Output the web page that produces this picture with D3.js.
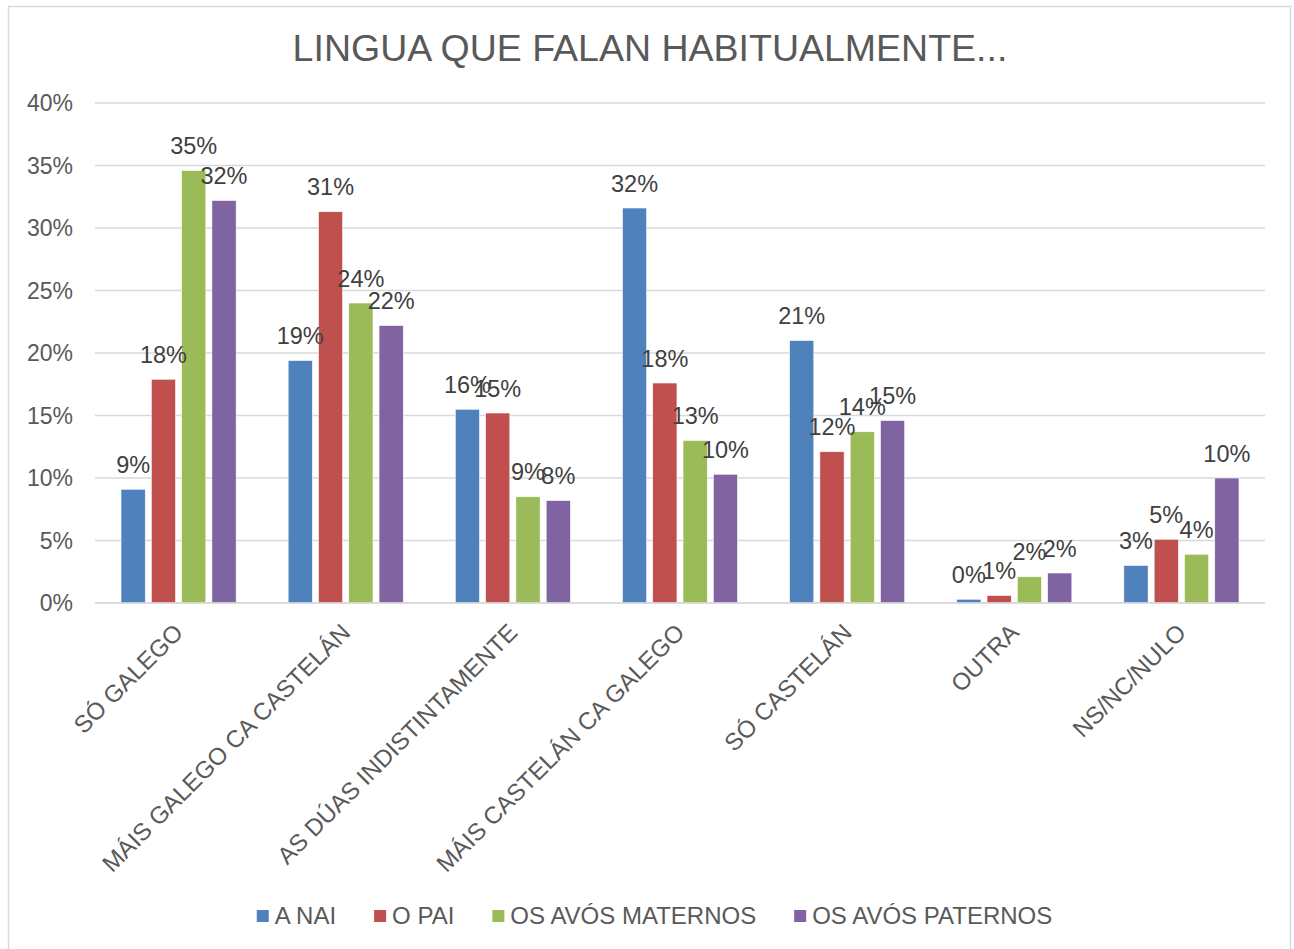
<!DOCTYPE html>
<html>
<head>
<meta charset="utf-8">
<script src="https://cdn.jsdelivr.net/npm/d3@7"></script>
<style>
  html, body { margin: 0; padding: 0; background: #fff; }
  svg { display: block; font-family: "Liberation Sans", Arial, sans-serif; }
</style>
</head>
<body>
<svg id="chart" width="1294" height="949"></svg>
<script>
const title = "LINGUA QUE FALAN HABITUALMENTE...";
const categories = ["SÓ GALEGO", "MÁIS GALEGO CA CASTELÁN", "AS DÚAS INDISTINTAMENTE", "MÁIS CASTELÁN CA GALEGO", "SÓ CASTELÁN", "OUTRA", "NS/NC/NULO"];
const seriesNames = ["A NAI", "O PAI", "OS AVÓS MATERNOS", "OS AVÓS PATERNOS"];
const seriesColors = ["#4F81BD", "#C0504D", "#9BBB59", "#8064A2"];
const aNai = [9.1, 19.4, 15.5, 31.6, 21.0, 0.3, 3.0];
const oPai = [17.9, 31.3, 15.2, 17.6, 12.1, 0.6, 5.1];
const avosMaternos = [34.6, 24.0, 8.5, 13.0, 13.7, 2.1, 3.9];
const avosPaternos = [32.2, 22.2, 8.2, 10.3, 14.6, 2.4, 10.0];
const yTicks = [0, 5, 10, 15, 20, 25, 30, 35, 40];

const seriesValues = [aNai, oPai, avosMaternos, avosPaternos];

const svg = d3.select("#chart");

// chart border
svg.append("rect").attr("x", 8.5).attr("y", 6.5).attr("width", 1282).attr("height", 960)
  .attr("fill", "#fff").attr("stroke", "#d9d9d9").attr("stroke-width", 1.5);

const plot = { left: 95, right: 1265, top: 103, bottom: 603 };

const x0 = d3.scaleBand().domain(categories).range([plot.left, plot.right]).padding(0);
const groupInner = 121.2;
const x1 = d3.scaleBand().domain(seriesNames)
  .range([(x0.bandwidth() - groupInner) / 2, (x0.bandwidth() + groupInner) / 2])
  .paddingInner(0.2).paddingOuter(0.1);
const y = d3.scaleLinear().domain([0, 40]).range([plot.bottom, plot.top]);

// title
svg.append("text").attr("x", 650).attr("y", 61).attr("text-anchor", "middle")
  .attr("font-size", 37.5).attr("fill", "#595959").text(title);

// gridlines
svg.append("g").selectAll("line").data(yTicks).join("line")
  .attr("x1", plot.left).attr("x2", plot.right)
  .attr("y1", d => y(d)).attr("y2", d => y(d))
  .attr("stroke", "#d9d9d9").attr("stroke-width", 1.5);

// y tick labels
svg.append("g").selectAll("text").data(yTicks).join("text")
  .attr("x", 73).attr("y", d => y(d)).attr("dy", "0.35em")
  .attr("text-anchor", "end").attr("font-size", 23).attr("fill", "#595959")
  .text(d => d + "%");

// bars
const rows = [];
categories.forEach((c, ci) => {
  seriesNames.forEach((s, si) => {
    rows.push({ cat: c, series: s, value: seriesValues[si][ci], color: seriesColors[si] });
  });
});

svg.append("g").selectAll("rect").data(rows).join("rect")
  .attr("x", d => x0(d.cat) + x1(d.series))
  .attr("width", x1.bandwidth())
  .attr("y", d => y(d.value))
  .attr("height", d => y(0) - y(d.value))
  .attr("fill", d => d.color)
  .attr("stroke", "#fff").attr("stroke-width", 0.6);

// axis baseline redraw on top
svg.append("line").attr("x1", plot.left).attr("x2", plot.right)
  .attr("y1", y(0)).attr("y2", y(0)).attr("stroke", "#d9d9d9").attr("stroke-width", 1.5);

// data labels
svg.append("g").selectAll("text").data(rows).join("text")
  .attr("x", d => x0(d.cat) + x1(d.series) + x1.bandwidth() / 2)
  .attr("y", d => y(d.value) - 16.5)
  .attr("text-anchor", "middle").attr("font-size", 23.5).attr("fill", "#404040")
  .text(d => Math.round(d.value) + "%");

// category labels
svg.append("g").selectAll("text").data(categories).join("text")
  .attr("transform", d => `translate(${x0(d) + x0.bandwidth() / 2 + 6},${plot.bottom + 31}) rotate(-45)`)
  .attr("text-anchor", "end").attr("font-size", 24).attr("fill", "#595959")
  .text(d => d);

// legend
const legend = svg.append("g");
const items = legend.selectAll("g").data(seriesNames).join("g");
items.append("rect").attr("width", 12).attr("height", 12).attr("y", -6)
  .attr("fill", (d, i) => seriesColors[i]);
items.append("text").attr("x", 18).attr("dy", "0.35em").attr("font-size", 24)
  .attr("fill", "#595959").text(d => d);
let cx = 0;
const positions = [];
items.each(function () {
  const w = 18 + this.querySelector("text").getComputedTextLength();
  positions.push(cx);
  cx += w + 38;
});
const totalW = cx - 38;
const startX = 654.5 - totalW / 2;
items.attr("transform", (d, i) => `translate(${startX + positions[i]},916)`);
</script>
</body>
</html>
